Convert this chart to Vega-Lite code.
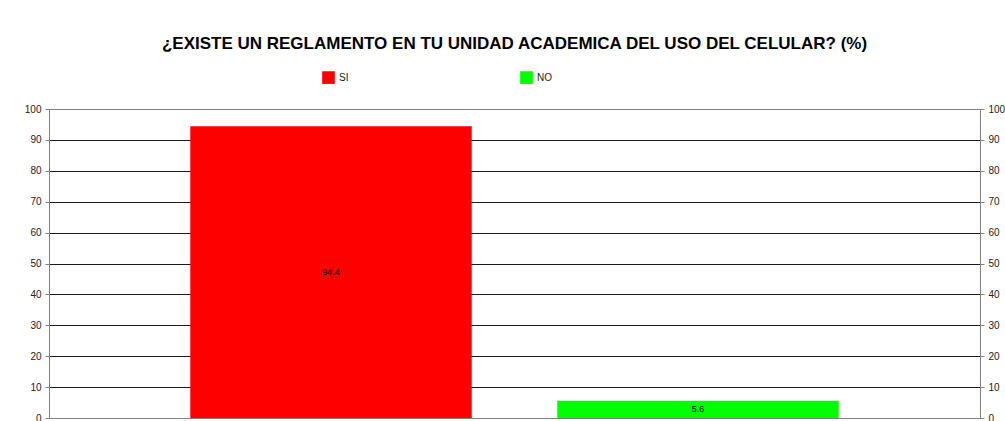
{
  "$schema": "https://vega.github.io/schema/vega-lite/v6.json",
  "width": 931,
  "height": 309,
  "autosize": {"type": "none"},
  "padding": {"left": 49, "top": 109, "right": 25, "bottom": 3},
  "background": "white",
  "title": {
    "text": "¿EXISTE UN REGLAMENTO EN TU UNIDAD ACADEMICA DEL USO DEL CELULAR? (%)",
    "font": "Liberation Sans",
    "fontSize": 17,
    "fontWeight": "bold",
    "color": "#000000",
    "anchor": "middle",
    "offset": 18
  },
  "config": {
    "view": {"stroke": "#808080", "strokeWidth": 1},
    "font": "Liberation Sans"
  },
  "data": {
    "values": [
      {"respuesta": "SI", "porcentaje": 94.4},
      {"respuesta": "NO", "porcentaje": 5.6}
    ]
  },
  "layer": [
    {
      "mark": {"type": "bar"},
      "encoding": {
        "x": {
          "field": "respuesta",
          "type": "nominal",
          "sort": ["SI", "NO"],
          "scale": {"domain": ["SI", "NO"], "paddingInner": 0.233, "paddingOuter": 0.385},
          "axis": {"labels": false, "ticks": false, "title": null, "domainColor": "#808080"}
        },
        "y": {
          "field": "porcentaje",
          "type": "quantitative",
          "scale": {"domain": [0, 100], "nice": false},
          "axis": {
            "orient": "left",
            "title": null,
            "values": [0, 10, 20, 30, 40, 50, 60, 70, 80, 90, 100],
            "grid": true,
            "gridColor": {"condition": {"test": "datum.value === 100", "value": "#808080"}, "value": "#1a1a1a"},
            "gridOpacity": 1,
            "domainColor": "#808080",
            "tickColor": "#808080",
            "tickSize": 4,
            "labelFontSize": 10,
            "labelColor": "#222222",
            "labelPadding": 4,
            "labelFont": "Liberation Sans"
          }
        },
        "color": {
          "field": "respuesta",
          "type": "nominal",
          "scale": {"domain": ["SI", "NO"], "range": ["#ff0000", "#00ff00"]},
          "legend": {
            "title": null,
            "orient": "none",
            "legendX": 273,
            "legendY": -38,
            "direction": "horizontal",
            "symbolType": "square",
            "symbolSize": 160,
            "symbolStrokeWidth": 0,
            "symbolOpacity": 1,
            "labelFontSize": 10,
            "labelColor": "#222222",
            "labelFont": "Liberation Sans",
            "labelOffset": 4,
            "columnPadding": 166,
            "gridAlign": "all"
          }
        }
      }
    },
    {
      "transform": [{"calculate": "datum.porcentaje / 2", "as": "mitad"}],
      "mark": {"type": "text", "fontSize": 9, "color": "#000000", "baseline": "middle", "align": "center", "font": "Liberation Sans"},
      "encoding": {
        "x": {"field": "respuesta", "type": "nominal", "sort": ["SI", "NO"]},
        "y": {
          "field": "mitad",
          "type": "quantitative",
          "axis": {
            "orient": "right",
            "title": null,
            "values": [0, 10, 20, 30, 40, 50, 60, 70, 80, 90, 100],
            "grid": false,
            "domainColor": "#808080",
            "tickColor": "#808080",
            "tickSize": 4,
            "labelFontSize": 10,
            "labelColor": "#222222",
            "labelPadding": 4,
            "labelFont": "Liberation Sans"
          }
        },
        "text": {"field": "porcentaje", "type": "quantitative", "format": ".1f"}
      }
    }
  ],
  "resolve": {"axis": {"y": "independent"}}
}
